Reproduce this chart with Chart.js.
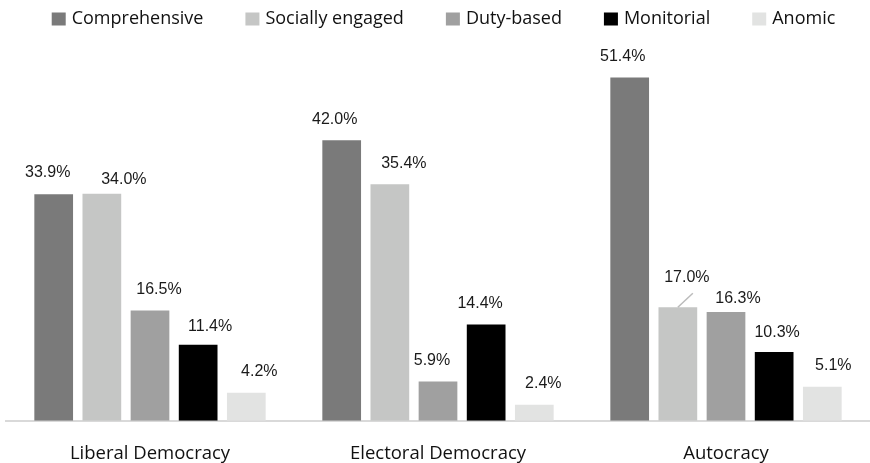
<!DOCTYPE html>
<html>
<head>
<meta charset="utf-8">
<script src="https://cdn.jsdelivr.net/npm/chart.js@4.4.1/dist/chart.umd.min.js"></script>
<style>
  html, body { margin: 0; padding: 0; background: #fff; }
  #wrap { width: 870px; height: 463px; }
</style>
</head>
<body>
<div id="wrap"><canvas id="typesChart"></canvas></div>
<script>
var regimes = ['Liberal Democracy', 'Electoral Democracy', 'Autocracy'];
var seriesNames = ['Comprehensive', 'Socially engaged', 'Duty-based', 'Monitorial', 'Anomic'];
var comprehensive = [33.9, 42.0, 51.4];
var sociallyEngaged = [34.0, 35.4, 17.0];
var dutyBased = [16.5, 5.9, 16.3];
var monitorial = [11.4, 14.4, 10.3];
var anomic = [4.2, 2.4, 5.1];
var colors = ['#7a7a7a', '#c5c6c5', '#a0a0a0', '#000000', '#e2e3e2'];

var textFont = '"Open Sans", sans-serif';

// hand placement of the value labels in the original: [dx from bar centre, height above bar top]
var labelNudge = [
    [[-6, 21.5], [-7, 21], [-7, 21]],
    [[22, 14.5], [14, 21], [9, 30]],
    [[9, 21], [-6, 21], [12, 13]],
    [[12, 18], [-6, 21], [3, 19]],
    [[13, 21], [9, 21], [11, 21]]
];

// value labels above bars (the 17.0% one gets a little leader line like the original)
var valueLabels = {
    id: 'valueLabels',
    afterDatasetsDraw: function(chart) {
        var ctx = chart.ctx;
        ctx.save();
        ctx.font = '16px "Liberation Sans", Arial, sans-serif';
        ctx.fillStyle = '#1a1a1a';
        ctx.textAlign = 'center';
        ctx.textBaseline = 'middle';
        chart.data.datasets.forEach(function(ds, i) {
            var meta = chart.getDatasetMeta(i);
            meta.data.forEach(function(bar, j) {
                var txt = ds.data[j].toFixed(1) + '%';
                var nudge = labelNudge[i][j];
                if (i === 1 && j === 2) {
                    ctx.strokeStyle = '#bbb';
                    ctx.lineWidth = 1.5;
                    ctx.beginPath();
                    ctx.moveTo(bar.x, bar.y);
                    ctx.lineTo(bar.x + 15, bar.y - 14);
                    ctx.stroke();
                }
                ctx.fillText(txt, bar.x + nudge[0], bar.y - nudge[1]);
            });
        });
        ctx.restore();
    }
};

// legend drawn by hand so the item spacing can be wider than the row padding
var wideLegend = {
    id: 'wideLegend',
    afterDraw: function(chart) {
        var ctx = chart.ctx;
        var box = 14, gap = 6, itemGap = 42;
        ctx.save();
        ctx.font = '18px ' + textFont;
        ctx.textBaseline = 'middle';
        ctx.textAlign = 'left';
        var widths = seriesNames.map(function(n) { return ctx.measureText(n).width; });
        var total = widths.reduce(function(a, w) { return a + box + gap + w; }, 0) + itemGap * (seriesNames.length - 1);
        var x = 443.5 - total / 2;
        var y = 19;
        seriesNames.forEach(function(n, i) {
            ctx.fillStyle = colors[i];
            ctx.fillRect(x, y - 6.5, box, 13);
            ctx.fillStyle = '#111';
            ctx.fillText(n, x + box + gap, y);
            x += box + gap + widths[i] + itemGap;
        });
        ctx.restore();
    }
};

document.addEventListener('DOMContentLoaded', function() {
    var ctx = document.getElementById('typesChart').getContext('2d');
    var seriesData = [comprehensive, sociallyEngaged, dutyBased, monitorial, anomic];
    var typesChart = new Chart(ctx, {
        type: 'bar',
        data: {
            labels: regimes,
            datasets: seriesNames.map(function(name, i) {
                return {
                    label: name,
                    data: seriesData[i],
                    backgroundColor: colors[i],
                    categoryPercentage: 0.836,
                    barPercentage: 0.804
                };
            })
        },
        options: {
            responsive: true,
            maintainAspectRatio: false,
            animation: false,
            layout: { padding: { left: 6, right: -6, top: 42, bottom: -24 } },
            plugins: {
                legend: { display: false },
                tooltip: { enabled: false }
            },
            scales: {
                x: {
                    grid: { display: false, drawTicks: false },
                    border: { color: '#d9d9d9', width: 2 },
                    ticks: {
                        color: '#111',
                        padding: 22,
                        font: { family: 'Open Sans', size: 18.5 }
                    }
                },
                y: {
                    display: false,
                    min: 0,
                    max: 56.7
                }
            }
        },
        plugins: [valueLabels, wideLegend]
    });
});
</script>
</body>
</html>
